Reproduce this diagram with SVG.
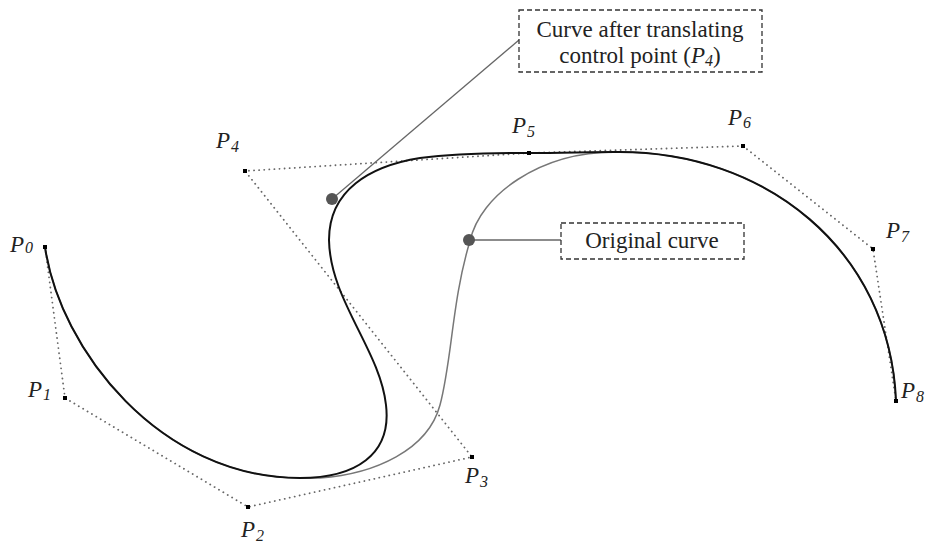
<svg xmlns="http://www.w3.org/2000/svg" width="925" height="544" viewBox="0 0 925 544">
<style>
.poly{fill:none;stroke:#666;stroke-width:1.8;stroke-dasharray:0.1 5;stroke-linecap:round}
.pt{fill:#000}
.lbl{font-family:"Liberation Serif",serif;font-style:italic;font-size:23px;fill:#222}
.sub{font-size:16px}
.box{fill:#fff;stroke:#333;stroke-width:1.3;stroke-dasharray:5 3}
.bt{font-family:"Liberation Serif",serif;font-size:23px;fill:#222;text-anchor:middle}
.lead{stroke:#666;stroke-width:1.3;fill:none}
.dot{fill:#555}
</style>
<rect width="925" height="544" fill="#fff"/>
<g id="control-polygon">
<polyline class="poly" points="45,247 65,398 248,507 472,457 245,171 529,153 743,146 873,249 896,401"/>
</g>
<g id="connectors">
<path id="original-curve" d="M45,247 C60,350 160,478 300,478 C305,478 312,478 320,478 C375,474 428,450 440,405 C452,360 452,300 470,241 C480,195 540,152 615,152 C765,150 890,250 896,401" fill="none" stroke="#777" stroke-width="1.5"/>
<path id="translated-curve" d="M45,247 C60,350 160,478 300,478 C355,478 392,455 386,405 C380,350 330,300 329,240 C329,190 370,166 420,158 C460,153 500,153 529,153 C560,153 590,152 615,152 C765,150 890,250 896,401" fill="none" stroke="#111" stroke-width="2"/>
<line class="lead" x1="332" y1="199" x2="519" y2="40"/>
<line class="lead" x1="469" y1="240" x2="561" y2="240"/>
</g>
<g id="control-points">
<rect class="pt" x="43" y="245" width="4" height="4"/>
<rect class="pt" x="63" y="396" width="4" height="4"/>
<rect class="pt" x="246" y="505" width="4" height="4"/>
<rect class="pt" x="470" y="455" width="4" height="4"/>
<rect class="pt" x="243" y="169" width="4" height="4"/>
<rect class="pt" x="527" y="151" width="4" height="4"/>
<rect class="pt" x="741" y="144" width="4" height="4"/>
<rect class="pt" x="871" y="247" width="4" height="4"/>
<rect class="pt" x="894" y="399" width="4" height="4"/>
</g>
<g id="labels">
<text class="lbl" x="10" y="252">P<tspan class="sub" dx="1" dy="1">0</tspan></text>
<text class="lbl" x="28" y="397">P<tspan class="sub" dx="1" dy="3">1</tspan></text>
<text class="lbl" x="241" y="537">P<tspan class="sub" dx="1" dy="4">2</tspan></text>
<text class="lbl" x="465" y="483">P<tspan class="sub" dx="1" dy="4">3</tspan></text>
<text class="lbl" x="216" y="148">P<tspan class="sub" dx="1" dy="4">4</tspan></text>
<text class="lbl" x="512" y="133">P<tspan class="sub" dx="1" dy="4">5</tspan></text>
<text class="lbl" x="728" y="125">P<tspan class="sub" dx="1" dy="3">6</tspan></text>
<text class="lbl" x="886" y="238">P<tspan class="sub" dx="1" dy="4">7</tspan></text>
<text class="lbl" x="901" y="398">P<tspan class="sub" dx="1" dy="4">8</tspan></text>
</g>
<g id="marker-translated"><circle class="dot" cx="332" cy="199" r="6"/></g>
<g id="marker-original"><circle class="dot" cx="469" cy="240" r="6"/></g>
<g id="box-translated">
<rect class="box" x="519" y="10" width="243" height="62"/>
<text class="bt" x="640" y="37">Curve after translating</text>
<text class="bt" x="640" y="63">control point (<tspan font-style="italic">P</tspan><tspan font-style="italic" font-size="16" dy="3">4</tspan><tspan dy="-3">)</tspan></text>
</g>
<g id="box-original">
<rect class="box" x="561" y="223" width="183" height="36"/>
<text class="bt" x="652" y="248">Original curve</text>
</g>
</svg>
